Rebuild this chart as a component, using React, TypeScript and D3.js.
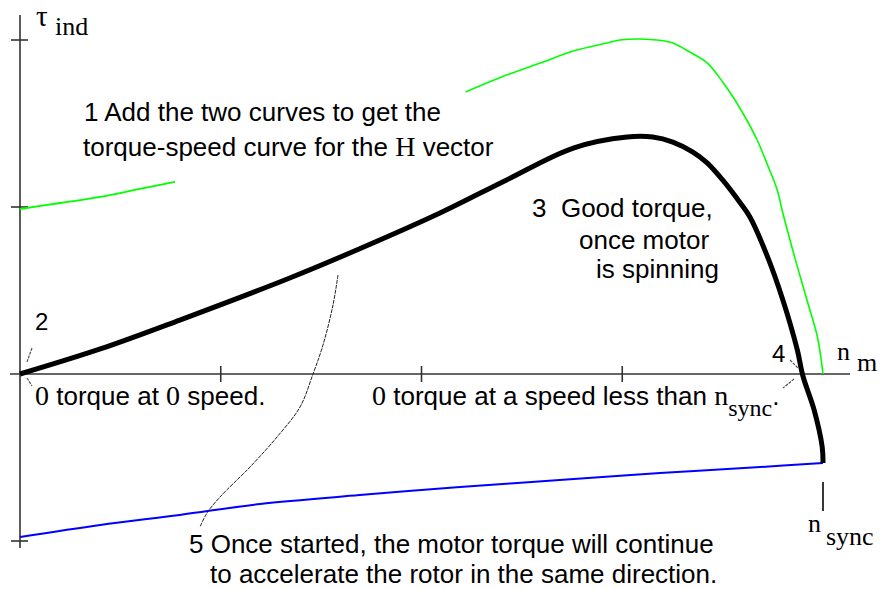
import React from "react";
import * as d3 from "d3";

// Speed as fraction of n_sync; torque in axis-tick units
const netSpeed = [0, 0.1, 0.199, 0.336, 0.423, 0.523, 0.606, 0.689, 0.756, 0.788, 0.813, 0.838, 0.856, 0.875, 0.897, 0.909, 0.93, 0.95, 0.968, 0.975, 0.989, 0.999, 1.0];
const netTorque = [0, 0.15, 0.323, 0.575, 0.75, 0.964, 1.162, 1.353, 1.419, 1.419, 1.389, 1.329, 1.263, 1.162, 1.024, 0.94, 0.713, 0.443, 0.144, -0.012, -0.216, -0.437, -0.533];

const fwdSpeedA = [0, 0.05, 0.1, 0.149, 0.193];
const fwdTorqueA = [0.988, 1.024, 1.06, 1.108, 1.15];

const fwdSpeedB = [0.555, 0.606, 0.648, 0.689, 0.731, 0.747, 0.793, 0.813, 0.834, 0.856, 0.875, 0.888, 0.905, 0.918, 0.93, 0.943, 0.95, 0.965, 0.98, 0.993, 1.0];
const fwdTorqueB = [1.689, 1.79, 1.862, 1.934, 1.982, 2.0, 2.0, 1.982, 1.928, 1.862, 1.749, 1.659, 1.521, 1.401, 1.263, 1.102, 0.964, 0.695, 0.443, 0.222, 0];

const revSpeed = [0, 0.1, 0.199, 0.299, 0.423, 0.548, 0.672, 0.797, 0.922, 1.0];
const revTorque = [-0.976, -0.904, -0.844, -0.778, -0.725, -0.677, -0.635, -0.593, -0.557, -0.533];

const xTicks = [0.25, 0.5, 0.75];
const yTicks = [-1, 1, 2];

const SANS = "'Liberation Sans', Arial, Helvetica, sans-serif";
const SERIF = "'Liberation Serif', 'Times New Roman', Times, serif";

export default function App() {
  const W = 892, H = 589;
  const x = d3.scaleLinear().domain([0, 1]).range([20, 823]);
  const y = d3.scaleLinear().domain([-1, 2]).range([541, 40]);
  const x0 = x(0), y0 = y(0);

  const mk = (xs: number[], ys: number[]) =>
    d3.line<number>().x((_, i) => x(xs[i])).y((_, i) => y(ys[i])).curve(d3.curveCatmullRom.alpha(0.5))(xs) || "";

  const leader = d3.line().curve(d3.curveCatmullRom);

  const axisColor = "#333";
  const fs = 26;

  return (
    <svg width={W} height={H} style={{ position: "absolute", left: 0, top: 0, background: "#fff" }}>
      <rect width={W} height={H} fill="#fff" />
      {/* axes */}
      <line x1={x0} x2={x0} y1={15} y2={548} stroke={axisColor} strokeWidth={1.6} />
      <line x1={10} x2={850} y1={y0} y2={y0} stroke={axisColor} strokeWidth={1.6} />
      {yTicks.map((t) => (
        <line key={"yt" + t} x1={x0 - 9} x2={x0 + 8} y1={y(t)} y2={y(t)} stroke={axisColor} strokeWidth={1.6} />
      ))}
      {xTicks.map((t) => (
        <line key={"xt" + t} x1={x(t)} x2={x(t)} y1={y0 - 8} y2={y0 + 8} stroke={axisColor} strokeWidth={1.6} />
      ))}
      {/* n_sync tick */}
      <line x1={x(1)} x2={x(1)} y1={482} y2={511} stroke="#222" strokeWidth={1.8} />

      {/* curves */}
      <path d={mk(revSpeed, revTorque)} fill="none" stroke="#0000ff" strokeWidth={2} />
      <path d={mk(fwdSpeedA, fwdTorqueA)} fill="none" stroke="#00ff00" strokeWidth={1.8} />
      <path d={mk(fwdSpeedB, fwdTorqueB)} fill="none" stroke="#00ff00" strokeWidth={1.6} />
      <path d={mk(netSpeed, netTorque)} fill="none" stroke="#000" strokeWidth={5} strokeLinejoin="round" />

      {/* leader lines */}
      <path
        d={leader([[338, 275], [333, 305], [323, 345], [313, 374], [300, 407], [277, 437], [250, 467], [220, 497], [207, 513], [200, 527]]) || ""}
        fill="none" stroke="#222" strokeWidth={1} strokeDasharray="4 1"
      />
      <line x1={32} y1={348} x2={27} y2={362} stroke="#555" strokeWidth={1.2} strokeDasharray="3 1" />
      <line x1={27} y1={378} x2={32} y2={386} stroke="#555" strokeWidth={1.2} strokeDasharray="3 1" />
      <line x1={790} y1={360} x2={798} y2={368} stroke="#555" strokeWidth={1.2} strokeDasharray="3 1" />
      <line x1={794} y1={379} x2={783} y2={388} stroke="#555" strokeWidth={1.2} strokeDasharray="3 1" />

      {/* axis labels */}
      <text x={36} y={26} fontFamily={SERIF} fontSize={29} fill="#000">τ</text>
      <text x={55} y={35} fontFamily={SERIF} fontSize={fs} fill="#000">ind</text>
      <text x={837} y={360} fontFamily={SERIF} fontSize={fs} fill="#000">n</text>
      <text x={857} y={371} fontFamily={SERIF} fontSize={fs} fill="#000">m</text>
      <text x={808} y={532} fontFamily={SERIF} fontSize={fs} fill="#000">n</text>
      <text x={826} y={545} fontFamily={SERIF} fontSize={fs} fill="#000">sync</text>

      {/* annotations */}
      <g fontFamily={SANS} fontSize={fs} fill="#000">
        <text x={84} y={121}>1 Add the two curves to get the</text>
        <text x={83} y={156}>
          {"torque-speed curve for the "}
          <tspan fontFamily={SERIF} fontSize={28}>H</tspan>
          {" vector"}
        </text>
        <text x={532} y={217}>{"3\u00a0 Good torque,"}</text>
        <text x={579} y={249}>once motor</text>
        <text x={596} y={278}>is spinning</text>
        <text x={35} y={330} fontSize={24}>2</text>
        <text x={772} y={362} fontSize={24}>4</text>
        <text x={35} y={405}>
          <tspan fontFamily={SERIF} fontSize={28}>0</tspan>
          {" torque at "}
          <tspan fontFamily={SERIF} fontSize={28}>0</tspan>
          {" speed."}
        </text>
        <text x={372} y={405}>
          <tspan fontFamily={SERIF} fontSize={28}>0</tspan>
          {" torque at a speed less than "}
          <tspan fontFamily={SERIF} fontSize={28}>n</tspan>
          <tspan fontFamily={SERIF} fontSize={24} dy={11}>sync</tspan>
          <tspan dy={-11}>.</tspan>
        </text>
        <text x={189} y={553}>5 Once started, the motor torque will continue</text>
        <text x={210} y={583}>to accelerate the rotor in the same direction.</text>
      </g>
    </svg>
  );
}
